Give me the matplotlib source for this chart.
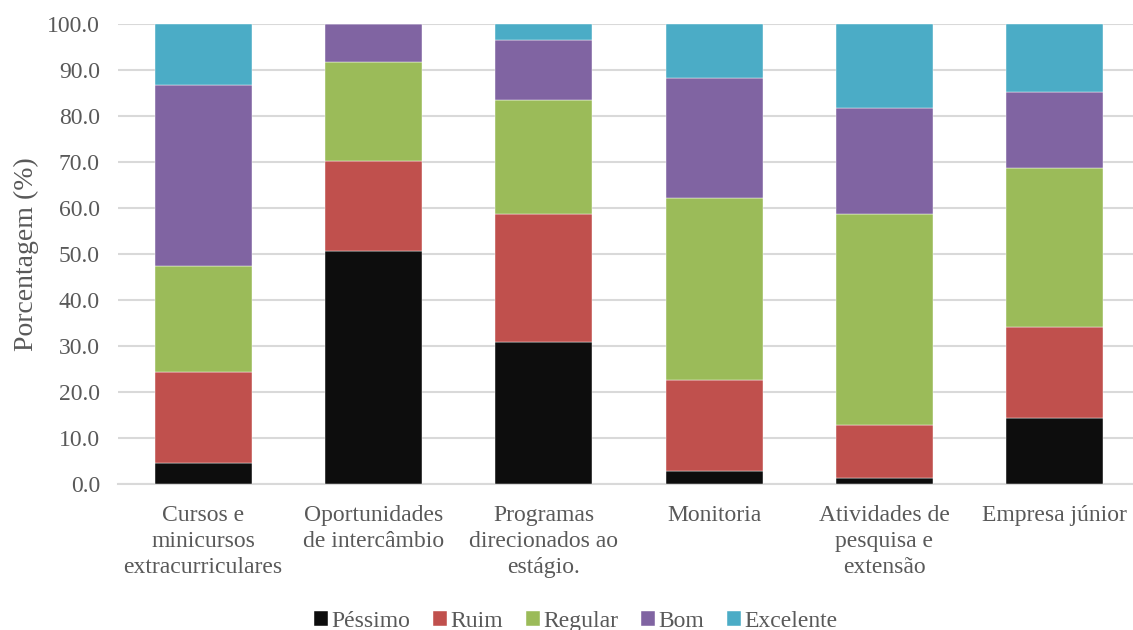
import matplotlib.pyplot as plt
import numpy as np

categories = [
    "Cursos e\nminicursos\nextracurriculares",
    "Oportunidades\nde intercâmbio",
    "Programas\ndirecionados ao\nestágio.",
    "Monitoria",
    "Atividades de\npesquisa e\nextensão",
    "Empresa júnior",
]
pessimo = [4.6, 50.7, 30.9, 2.9, 1.3, 14.4]
ruim = [19.7, 19.6, 27.9, 19.8, 11.5, 19.8]
regular = [23.1, 21.4, 24.7, 39.4, 46.0, 34.6]
bom = [39.3, 8.3, 13.1, 26.2, 23.0, 16.4]
excelente = [13.3, 0.0, 3.4, 11.7, 18.2, 14.8]

series = [
    ("Péssimo", pessimo, "#0d0d0d"),
    ("Ruim", ruim, "#c0504d"),
    ("Regular", regular, "#9bbb59"),
    ("Bom", bom, "#8064a2"),
    ("Excelente", excelente, "#4bacc6"),
]

plt.rcParams["font.family"] = ["Liberation Serif", "DejaVu Serif"]
text_color = "#595959"

fig = plt.figure(figsize=(11.33, 6.3), dpi=100)
ax = fig.add_axes([118 / 1133, 1 - 484 / 630, (1140 - 118) / 1133, (484 - 24) / 630])

x = np.arange(len(categories))
bottom = np.zeros(len(categories))
for label, vals, color in series:
    vals = np.array(vals)
    ax.bar(x, vals, 0.57, bottom=bottom, color=color, label=label,
           edgecolor="white", linewidth=0.3, zorder=3)
    bottom += vals

ax.set_xlim(-0.5, 5.5)
ax.set_ylim(0, 100)
ax.set_yticks(np.arange(0, 101, 10))
ax.set_yticklabels([f"{v:.1f}" for v in np.arange(0, 101, 10)])
ax.yaxis.grid(True, color="#d9d9d9", linewidth=1.5, zorder=0)
ax.set_axisbelow(True)

for s in ["top", "right", "left"]:
    ax.spines[s].set_visible(False)
ax.spines["bottom"].set_color("#d9d9d9")
ax.spines["bottom"].set_linewidth(1.5)

ax.tick_params(axis="y", length=0, pad=13, labelsize=17, labelcolor=text_color)
ax.tick_params(axis="x", length=0, pad=15, labelsize=17, labelcolor=text_color)
ax.set_xticks(x)
ax.set_xticklabels(categories, linespacing=1.33)

ax.set_ylabel("Porcentagem (%)", fontsize=20, color=text_color, labelpad=6)

leg = fig.legend(loc="lower center", bbox_to_anchor=(0.508, -0.037), ncol=5,
                 frameon=False, fontsize=17, handlelength=0.6, handleheight=0.6,
                 handletextpad=0.15, columnspacing=0.95)
for t in leg.get_texts():
    t.set_color(text_color)

fig.savefig("out.png", dpi=100)
